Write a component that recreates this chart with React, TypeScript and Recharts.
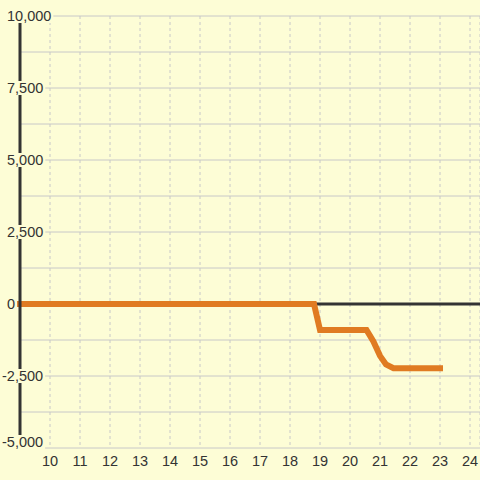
import { LineChart, Line, XAxis, YAxis, CartesianGrid } from 'recharts';

const BG = '#fdfdd6';
const ORANGE = '#e07b22';
const DARK = '#333333';
const GRID = '#c8c8c8';
const FONT = "'Liberation Sans', Arial, sans-serif";
const FS = 14.5;

const xValues = [9, 18.8, 19, 20.55, 20.78, 21, 21.2, 21.45, 23];
const yValues = [0, 0, -900, -900, -1300, -1800, -2100, -2230, -2230];
const xTicks = [10, 11, 12, 13, 14, 15, 16, 17, 18, 19, 20, 21, 22, 23, 24];
const yTicks = [-5000, -3750, -2500, -1250, 0, 1250, 2500, 3750, 5000, 6250, 7500, 8750, 10000];

const data = xValues.map((x, i) => ({ x, y: yValues[i] }));

function fmt(v: number) {
  return v.toLocaleString('en-US');
}

// rough Arial advance widths, in em
function textWidth(s: string) {
  let w = 0;
  for (const c of s) w += c === ',' ? 0.278 : c === '-' ? 0.333 : 0.556;
  return w * FS;
}

function YTick(props: any) {
  const { y, payload } = props;
  const v = payload.value as number;
  if (v % 2500 !== 0) return <g />;
  const label = fmt(v);
  const x0 = v < 0 ? 2 : 7;
  const cy = v === -5000 ? y - 6 : y;
  return (
    <g>
      <rect x={x0 - 2} y={cy - 7} width={textWidth(label) + 4} height={14} fill={BG} />
      <text x={x0} y={cy + 5} fontSize={FS} fill={DARK} fontFamily={FONT}>
        {label}
      </text>
    </g>
  );
}

function XTick(props: any) {
  const { x, payload } = props;
  return (
    <text x={x} y={466} textAnchor="middle" fontSize={FS} fill={DARK} fontFamily={FONT}>
      {payload.value}
    </text>
  );
}

export default function App() {
  return (
    <div style={{ position: 'fixed', left: 0, top: 0, width: 480, height: 480, background: BG }}>
      <LineChart width={480} height={480} data={data} margin={{ top: 16, right: 0, left: 0, bottom: 0 }}>
        <CartesianGrid vertical={false} stroke={GRID} strokeWidth={1} />
        <CartesianGrid horizontal={false} stroke={GRID} strokeDasharray="3 3" />
        <CartesianGrid vertical={false} horizontalValues={[0]} stroke={DARK} strokeWidth={3} />
        <XAxis
          type="number"
          dataKey="x"
          domain={[9, 24.333]}
          ticks={xTicks}
          axisLine={false}
          tickLine={false}
          height={32}
          tick={<XTick />}
        />
        <Line
          type="linear"
          dataKey="y"
          stroke={ORANGE}
          strokeWidth={6}
          strokeLinecap="square"
          dot={false}
          isAnimationActive={false}
        />
        <YAxis
          type="number"
          domain={[-5000, 10000]}
          ticks={yTicks}
          width={20}
          axisLine={{ stroke: DARK, strokeWidth: 3 }}
          tickLine={false}
          tick={<YTick />}
          interval={0}
        />
      </LineChart>
    </div>
  );
}
